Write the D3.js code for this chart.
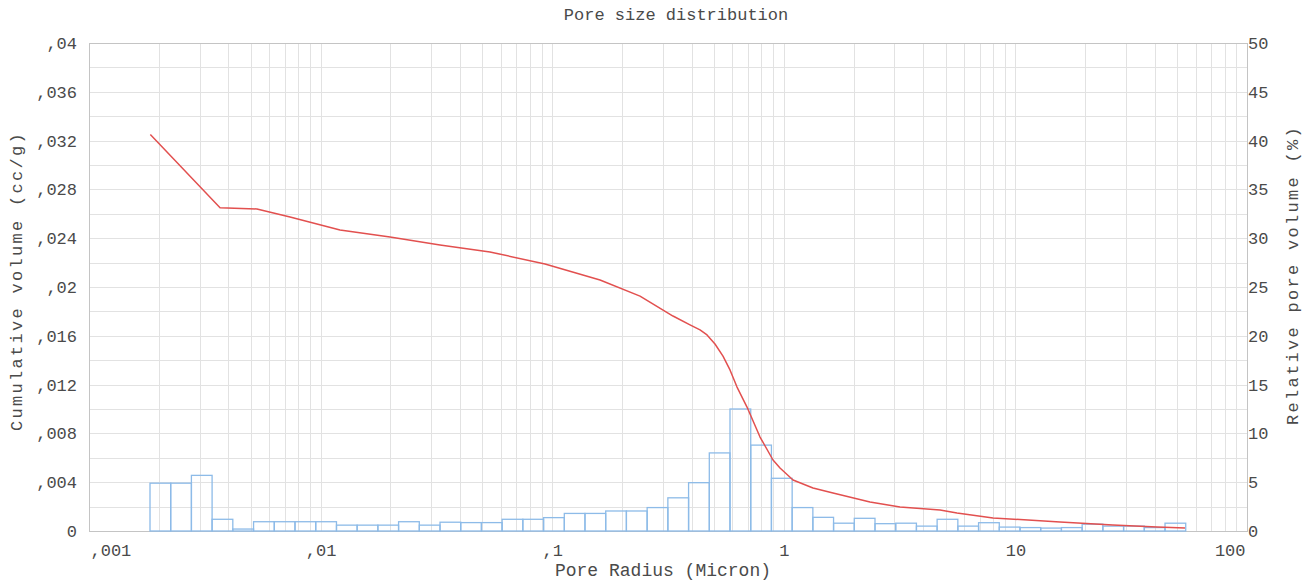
<!DOCTYPE html>
<html>
<head>
<meta charset="utf-8">
<script src="https://cdn.jsdelivr.net/npm/d3@7/dist/d3.min.js"></script>
<style>
  html, body { margin: 0; padding: 0; background: #fff; }
  svg { display: block; }
  text { font-family: "Liberation Mono", "DejaVu Sans Mono", monospace; fill: #4a4a4a; }
</style>
</head>
<body>
<svg id="chart" width="1312" height="581"></svg>
<script>
// Histogram bin edges (pore radius, micron) — 50 bins
const binEdges = [
  0.001834, 0.002253, 0.002768, 0.003400, 0.004178, 0.005135, 0.006310, 0.007752, 0.009526, 0.01171,
  0.01438, 0.01767, 0.02171, 0.02668, 0.03278, 0.04027, 0.04948, 0.06078, 0.07468, 0.09178,
  0.1128, 0.1385, 0.1702, 0.2091, 0.2570, 0.3158, 0.3880, 0.4768, 0.5857, 0.7198,
  0.8843, 1.0866, 1.335, 1.640, 2.015, 2.476, 3.042, 3.738, 4.592, 5.643,
  6.934, 8.519, 10.47, 12.86, 15.80, 19.42, 23.86, 29.32, 36.02, 44.26, 54.38
];

// Relative pore volume per bin (%)
const relativeVolume = [
  4.9, 4.9, 5.7, 1.2, 0.2, 0.95, 0.95, 0.95, 0.95, 0.6,
  0.6, 0.6, 0.95, 0.6, 0.9, 0.86, 0.86, 1.2, 1.2, 1.37,
  1.8, 1.8, 2.05, 2.05, 2.4, 3.4, 4.95, 8.0, 12.5, 8.8,
  5.4, 2.4, 1.4, 0.8, 1.3, 0.75, 0.8, 0.5, 1.2, 0.5,
  0.85, 0.4, 0.35, 0.3, 0.35, 0.7, 0.5, 0.5, 0.35, 0.8
];

// Cumulative intrusion curve: radius (micron) and volume (cc/g)
const cumRadius = [
  0.00184, 0.00368, 0.00531, 0.00738, 0.01213, 0.01994, 0.03278, 0.05388, 0.0931, 0.1609,
  0.2394, 0.3323, 0.3936, 0.4347, 0.4661, 0.5045, 0.5463, 0.5857, 0.6281, 0.6937, 0.7895, 0.8983, 0.9629, 1.096,
  1.337, 1.631, 2.356, 3.175, 4.726, 5.595, 8.005, 15.58, 26.38, 40.87, 53.98
];
const cumVolume = [
  0.0325, 0.0265, 0.0264, 0.02574, 0.02467, 0.0241, 0.02344, 0.02287, 0.02189, 0.02057,
  0.01925, 0.01762, 0.01689, 0.01648, 0.01607, 0.01533, 0.01434, 0.0132, 0.0118, 0.01016, 0.0077, 0.00582, 0.00516, 0.00418,
  0.00352, 0.00311, 0.00238, 0.00197, 0.00172, 0.00148, 0.00107, 0.00074, 0.00049, 0.00033, 0.00025
];

// Axis ticks and labels
const xTicks = [0.001, 0.01, 0.1, 1, 10, 100];
const xTickLabels = [",001", ",01", ",1", "1", "10", "100"];
const yLeftTicks = [0, 0.004, 0.008, 0.012, 0.016, 0.02, 0.024, 0.028, 0.032, 0.036, 0.04];
const yLeftTickLabels = ["0", ",004", ",008", ",012", ",016", ",02", ",024", ",028", ",032", ",036", ",04"];
const yRightTicks = [0, 5, 10, 15, 20, 25, 30, 35, 40, 45, 50];
const yRightTickLabels = ["0", "5", "10", "15", "20", "25", "30", "35", "40", "45", "50"];

const titleText = "Pore size distribution";
const xTitle = "Pore Radius (Micron)";
const yLeftTitle = "Cumulative volume (cc/g)";
const yRightTitle = "Relative pore volume (%)";

// Layout
const plot = { left: 89, right: 1247, top: 43, bottom: 531 };
const svg = d3.select("#chart");

const x = d3.scaleLog().domain([0.001, 100]).range([plot.left, plot.right]);
const yL = d3.scaleLinear().domain([0, 0.04]).range([plot.bottom, plot.top]);
const yR = d3.scaleLinear().domain([0, 50]).range([plot.bottom, plot.top]);

// Grid: log minor/major verticals, horizontal every 0.002
const grid = svg.append("g").attr("class", "grid");
const xGridVals = [];
for (let d = -3; d < 2; d++) {
  for (let m = 1; m <= 9; m++) xGridVals.push(m * Math.pow(10, d));
}
xGridVals.push(100);
grid.selectAll("line.v").data(xGridVals).join("line")
  .attr("class", "v")
  .attr("x1", d => Math.round(x(d)) + 0.5).attr("x2", d => Math.round(x(d)) + 0.5)
  .attr("y1", plot.top).attr("y2", plot.bottom)
  .attr("stroke", "#e2e2e2").attr("stroke-width", 1);
const yGridVals = d3.range(0, 21).map(i => i * 0.002);
grid.selectAll("line.h").data(yGridVals).join("line")
  .attr("class", "h")
  .attr("x1", plot.left).attr("x2", plot.right)
  .attr("y1", d => Math.round(yL(d)) + 0.5).attr("y2", d => Math.round(yL(d)) + 0.5)
  .attr("stroke", "#e2e2e2").attr("stroke-width", 1);

// Frame
svg.append("rect")
  .attr("x", plot.left + 0.5).attr("y", plot.top + 0.5)
  .attr("width", plot.right - plot.left).attr("height", plot.bottom - plot.top)
  .attr("fill", "none").attr("stroke", "#c4c4c4").attr("stroke-width", 1);

// Histogram outlines
const bins = relativeVolume.map((v, i) => ({ x0: binEdges[i], x1: binEdges[i + 1], v }));
svg.append("g").selectAll("rect").data(bins).join("rect")
  .attr("x", d => x(d.x0))
  .attr("width", d => x(d.x1) - x(d.x0))
  .attr("y", d => yR(d.v))
  .attr("height", d => yR(0) - yR(d.v))
  .attr("fill", "none")
  .attr("stroke", "#8dbbe8")
  .attr("stroke-width", 1.3);

// Cumulative curve
const cumData = cumRadius.map((r, i) => [r, cumVolume[i]]);
svg.append("path")
  .datum(cumData)
  .attr("fill", "none")
  .attr("stroke", "#e2504f")
  .attr("stroke-width", 1.5)
  .attr("stroke-linejoin", "round")
  .attr("d", d3.line().x(d => x(d[0])).y(d => yL(d[1])));

// Axes (labels only)
const fs = 17;
const xAxis = svg.append("g")
  .attr("transform", `translate(0,${plot.bottom})`)
  .call(d3.axisBottom(x).tickValues(xTicks).tickSize(0).tickPadding(13)
    .tickFormat((d, i) => xTickLabels[i]));
xAxis.select(".domain").remove();
xAxis.selectAll("text")
  .style("font-size", fs + "px")
  .attr("text-anchor", (d, i) => i === 0 ? "start" : (i === xTicks.length - 1 ? "end" : "middle"))
  .attr("dx", (d, i) => i === 0 ? 1 : (i === xTicks.length - 1 ? -2 : 0));

const yAxisL = svg.append("g")
  .attr("transform", `translate(${plot.left},0)`)
  .call(d3.axisLeft(yL).tickValues(yLeftTicks).tickSize(0).tickPadding(12)
    .tickFormat((d, i) => yLeftTickLabels[i]));
yAxisL.select(".domain").remove();
yAxisL.selectAll("text").style("font-size", fs + "px");

const yAxisR = svg.append("g")
  .attr("transform", `translate(${plot.right},0)`)
  .call(d3.axisRight(yR).tickValues(yRightTicks).tickSize(0).tickPadding(1)
    .tickFormat((d, i) => yRightTickLabels[i]));
yAxisR.select(".domain").remove();
yAxisR.selectAll("text").style("font-size", fs + "px");

// Titles
svg.append("text")
  .attr("x", 676).attr("y", 20)
  .attr("text-anchor", "middle")
  .style("font-size", fs + "px")
  .text(titleText);

svg.append("text")
  .attr("x", 663).attr("y", 576)
  .attr("text-anchor", "middle")
  .style("font-size", "18px")
  .text(xTitle);

svg.append("text")
  .attr("transform", "translate(22,281) rotate(-90)")
  .attr("text-anchor", "middle")
  .style("font-size", fs + "px")
  .style("letter-spacing", "2.3px")
  .text(yLeftTitle);

svg.append("text")
  .attr("transform", "translate(1298,275) rotate(-90)")
  .attr("text-anchor", "middle")
  .style("font-size", fs + "px")
  .style("letter-spacing", "2.3px")
  .text(yRightTitle);
</script>
</body>
</html>
